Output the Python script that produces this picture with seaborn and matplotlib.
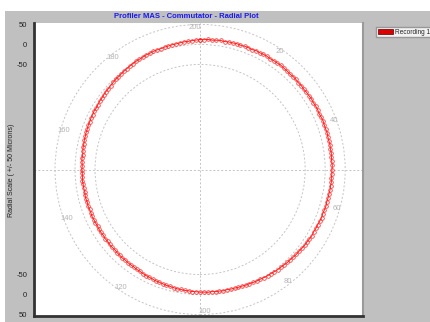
import numpy as np
import pandas as pd
import matplotlib
matplotlib.use("Agg")
import matplotlib.pyplot as plt
from matplotlib.patches import Circle, Rectangle, Patch
import seaborn as sns

# Commutator profile: deviation in microns for each of 200 bars (bar 0/200 at top, clockwise)
deviation_um = [
    12, 12, 13, 12, 13, 14, 13, 14, 14, 15,
    14, 15, 15, 14, 16, 15, 16, 16, 15, 16,
    16, 17, 16, 16, 15, 16, 16, 15, 16, 15,
    16, 16, 17, 16, 17, 17, 16, 17, 18, 17,
    17, 18, 17, 17, 18, 17, 18, 17, 17, 18,
    17, 17, 16, 17, 16, 16, 15, 15, 14, 15,
    14, 13, 14, 13, 12, 12, 11, 12, 11, 10,
    10, 9, 8, 8, 7, 6, 6, 5, 4, 4,
    3, 2, 2, 1, 0, 0, -1, -2, -2, -3,
    -3, -4, -4, -5, -4, -5, -5, -6, -5, -6,
    -6, -7, -7, -8, -8, -9, -9, -10, -11, -11,
    -12, -13, -13, -14, -15, -15, -16, -17, -17, -18,
    -18, -18, -19, -18, -19, -19, -20, -19, -19, -20,
    -19, -20, -19, -19, -20, -19, -19, -18, -19, -19,
    -18, -19, -18, -18, -19, -18, -18, -17, -18, -18,
    -17, -18, -17, -16, -17, -16, -15, -15, -14, -14,
    -13, -13, -12, -12, -11, -11, -10, -11, -10, -9,
    -9, -8, -7, -7, -6, -5, -4, -4, -3, -2,
    -1, 0, 1, 2, 2, 3, 4, 4, 5, 5,
    5, 6, 6, 7, 7, 8, 9, 9, 10, 11,
]
n_bars = 200
bar_labels = [20, 40, 60, 80, 100, 120, 140, 160, 180, 200]
ring_levels = [-50, 0, 50]
radial_tick_labels = ["50", "0", "-50", "-50", "0", "50"]
series_name = "Recording 1"
title = "Profiler MAS - Commutator - Radial Plot"
ylabel = "Radial Scale ( +/- 50 Microns)"

# radius (plot units) of the zero-deviation ring
R0 = 312.5

sns.set_style("white")
plt.rcParams["font.family"] = ["Liberation Sans", "DejaVu Sans"]

W, H = 430, 322
fig = plt.figure(figsize=(W / 100, H / 100), dpi=100, facecolor="white")
fig.patches.append(Rectangle((5 / W, 0), 1, (H - 11) / H, transform=fig.transFigure,
                             facecolor="#c0c0c0", edgecolor="none", zorder=-10))

ax = fig.add_axes([34 / W, 6 / H, 329 / W, 293 / H])
ax.set_zorder(1)
ax.set_facecolor("white")
ax.set_xlim(-415, 407)
ax.set_ylim(-366, 366)

# grid rings and crosshair
for lev in ring_levels:
    ax.add_patch(Circle((0, 0), R0 + lev, fill=False, ls=(0, (2, 2)),
                        ec="#c4c4c4", lw=0.7, zorder=1))
ax.axhline(0, ls=(0, (2, 2)), color="#c4c4c4", lw=0.7, zorder=1)
ax.axvline(0, ls=(0, (2, 2)), color="#c4c4c4", lw=0.7, zorder=1)

# bar-number labels around the outer ring
for b in bar_labels:
    th = np.radians(b * 360.0 / n_bars - 2.0)
    ax.text(355 * np.sin(th), 355 * np.cos(th), str(b), color="#b4b4b4",
            fontsize=5.5, ha="center", va="center", zorder=2)

# profile trace (closed loop)
idx = np.arange(n_bars + 1)
dev = np.array(deviation_um + deviation_um[:1], dtype=float)
theta = np.radians(idx * 360.0 / n_bars)
df = pd.DataFrame({"x": (R0 + dev) * np.sin(theta), "y": (R0 + dev) * np.cos(theta)})
sns.lineplot(data=df, x="x", y="y", sort=False, estimator=None, ax=ax,
             color="#ff2020", lw=0.7, marker="o", markersize=2.6,
             markerfacecolor="none", markeredgecolor="#ff2020",
             markeredgewidth=0.5, legend=False, zorder=3)

# axes styling
ax.set_xlabel("")
ax.set_ylabel("")
ytick_pos = [R0 + 50, R0, R0 - 50, -(R0 - 50), -R0, -(R0 + 50)]
ax.set_yticks(ytick_pos)
ax.set_yticklabels(radial_tick_labels, fontsize=5.5, color="#222222")
ax.tick_params(axis="y", length=0, pad=5)
xtick_pos = [-(R0 + 50), -R0, -(R0 - 50), -137, 0, 137, R0 - 50, R0, R0 + 50]
ax.set_xticks(xtick_pos)
ax.set_xticklabels([])
ax.tick_params(axis="x", length=3, width=0.6, color="#555555", direction="out")
ax.spines["top"].set_visible(False)
ax.spines["left"].set_color("#333333")
ax.spines["left"].set_linewidth(2)
ax.spines["bottom"].set_color("#333333")
ax.spines["bottom"].set_linewidth(2)
ax.spines["right"].set_color("#9a9a9a")
ax.spines["right"].set_linewidth(1.5)

fig.text(186 / W, 1 - 16 / H, title, color="#1a1aee", fontsize=5.5,
         fontweight="bold", ha="center", va="center")
fig.text(12 / W, 1 - 170 / H, ylabel, rotation=90, fontsize=5,
         color="#222222", ha="center", va="center")

fig.legend(handles=[Patch(facecolor="#dd0000", edgecolor="#550000", lw=0.5)],
           labels=[series_name], loc="upper left",
           bbox_to_anchor=(376 / W, 1 - 27 / H), fontsize=4.7, frameon=True,
           fancybox=False, shadow=False, edgecolor="#888888", facecolor="white",
           borderpad=0.25, handlelength=2.4, handleheight=0.8, handletextpad=0.25,
           borderaxespad=0)

fig.savefig("out.png", dpi=100, facecolor=fig.get_facecolor())
